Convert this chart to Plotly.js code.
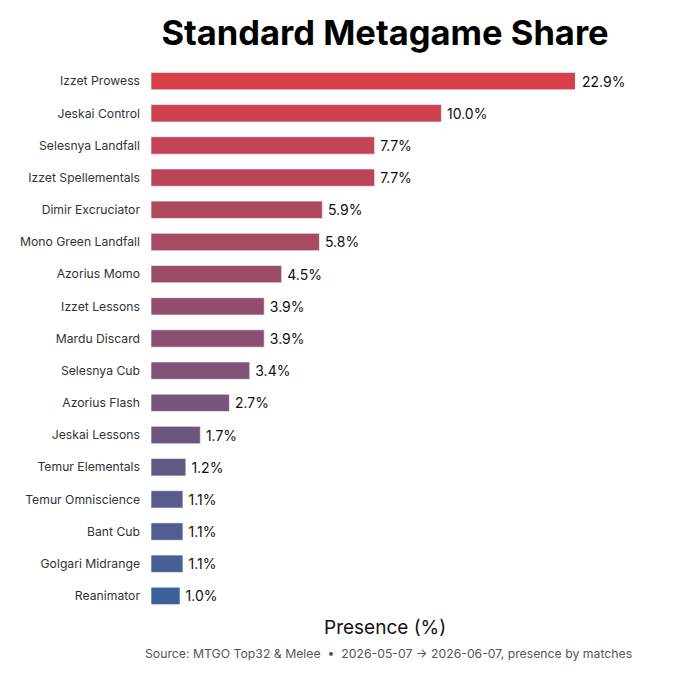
<!DOCTYPE html>
<html>
<head>
<meta charset="utf-8">
<script src="https://cdn.plot.ly/plotly-3.0.1.min.js"></script>
<style>
  html, body { margin: 0; padding: 0; background: #fff; }
  #chart { width: 680px; height: 680px; }
</style>
</head>
<body>
<div id="chart"></div>
<script>
// archetypes, top to bottom
const archetypes = [
  'Izzet Prowess', 'Jeskai Control', 'Selesnya Landfall', 'Izzet Spellementals',
  'Dimir Excruciator', 'Mono Green Landfall', 'Azorius Momo', 'Izzet Lessons',
  'Mardu Discard', 'Selesnya Cub', 'Azorius Flash', 'Jeskai Lessons',
  'Temur Elementals', 'Temur Omniscience', 'Bant Cub', 'Golgari Midrange', 'Reanimator'
];
const presence = [22.9, 10.0, 7.7, 7.7, 5.9, 5.8, 4.5, 3.9, 3.9, 3.4, 2.7, 1.7, 1.2, 1.1, 1.1, 1.1, 1.0];

const titleText = 'Standard Metagame Share';
const xTitle = 'Presence (%)';
const sourceText = 'Source: MTGO Top32 &amp; Melee  •  2026-05-07 → 2026-06-07, presence by matches';

// axis is cut short, the leader runs off the end
const xMax = 14.6;

// red -> blue ramp down the list
const topColor = [215, 63, 74];
const bottomColor = [60, 97, 153];
function ramp(i, n) {
  const t = n > 1 ? i / (n - 1) : 0;
  const c = topColor.map((v, k) => Math.round(v + (bottomColor[k] - v) * t));
  return 'rgb(' + c.join(',') + ')';
}
const colors = archetypes.map((_, i) => ramp(i, archetypes.length));
const labels = presence.map(v => v.toFixed(1) + '%');
const valueFont = { family: 'Inter, sans-serif', size: 14, color: '#111' };

const trace = {
  type: 'bar',
  orientation: 'h',
  y: archetypes,
  x: presence,
  marker: { color: colors, line: { color: 'rgba(255,255,255,0.6)', width: 1 } },
  // thin space pushes the label a bit further off the bar end
  text: presence.map((v, i) => v > xMax ? '' : '\u2009' + labels[i]),
  textposition: 'outside',
  cliponaxis: false,
  textfont: valueFont,
  hoverinfo: 'skip',
};

// labels for bars that run past the axis end
const overflow = [];
presence.forEach((v, i) => {
  if (v > xMax) {
    overflow.push({
      text: labels[i], x: xMax, y: archetypes[i], xref: 'x', yref: 'y',
      xanchor: 'left', xshift: 5, showarrow: false, font: valueFont,
    });
  }
});

const layout = {
  width: 680,
  height: 680,
  margin: { l: 151, r: 105, t: 65, b: 68 },
  paper_bgcolor: '#fff',
  plot_bgcolor: '#fff',
  bargap: 0.46,
  showlegend: false,
  font: { family: 'Inter, sans-serif', color: '#333' },
  title: {
    text: '<b>' + titleText + '</b>',
    font: { family: 'Inter, sans-serif', size: 34.5, color: '#000' },
    xref: 'paper', x: 0.552, xanchor: 'center',
    yref: 'container', y: 0.952, yanchor: 'middle',
  },
  xaxis: {
    range: [0, xMax],
    showgrid: false,
    zeroline: false,
    showticklabels: false,
    ticks: '',
    showline: false,
    fixedrange: true,
  },
  yaxis: {
    autorange: 'reversed',
    showgrid: false,
    zeroline: false,
    showline: false,
    ticks: '',
    ticklabelstandoff: 10,
    tickfont: { family: 'Inter, sans-serif', size: 12.2, color: '#333' },
  },
  annotations: overflow.concat([
    {
      text: xTitle, xref: 'paper', yref: 'paper', x: 0.552, y: -0.003,
      xanchor: 'center', yanchor: 'top', showarrow: false,
      font: { family: 'Inter, sans-serif', size: 19, color: '#111' },
    },
    {
      text: sourceText, xref: 'paper', yref: 'paper', x: 0.56, y: -0.058,
      xanchor: 'center', yanchor: 'top', showarrow: false,
      font: { family: 'Inter, sans-serif', size: 12.25, color: '#555' },
    },
  ]),
};

Plotly.newPlot('chart', [trace], layout, { displayModeBar: false, staticPlot: true });
</script>
</body>
</html>
